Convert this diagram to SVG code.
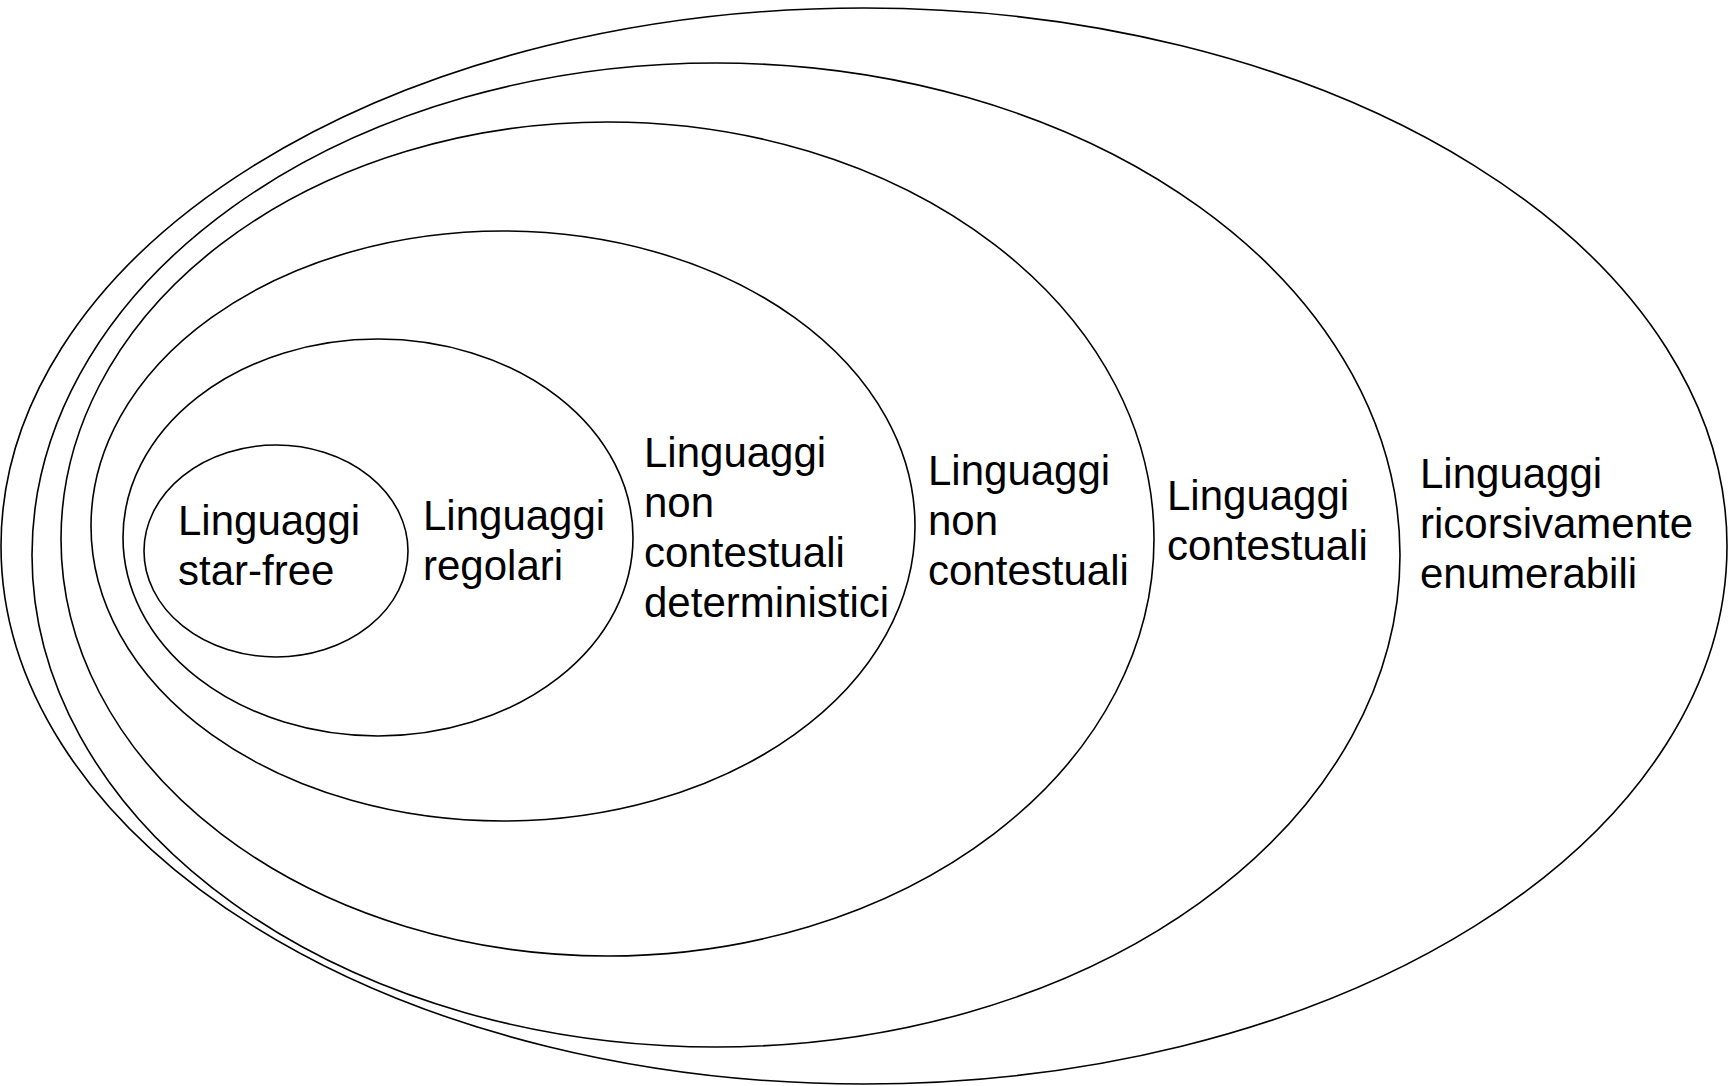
<svg xmlns="http://www.w3.org/2000/svg" width="1728" height="1086" viewBox="0 0 1728 1086">
<style>
.e{fill:none;stroke:#000;stroke-width:1.6}
.t{font-family:"Liberation Sans",Arial,sans-serif;font-size:42px;fill:#000}
</style>
<rect width="1728" height="1086" fill="#fff"/>
<g id="re"><ellipse class="e" cx="864" cy="546" rx="863" ry="538"/>
<text class="t" x="1420" y="488">Linguaggi</text><text class="t" x="1420" y="538">ricorsivamente</text><text class="t" x="1420" y="588">enumerabili</text></g>
<g id="cs"><ellipse class="e" cx="716" cy="555" rx="684" ry="492"/>
<text class="t" x="1167" y="510">Linguaggi</text><text class="t" x="1167" y="560">contestuali</text></g>
<g id="cf"><ellipse class="e" cx="607.5" cy="539" rx="546.5" ry="417"/>
<text class="t" x="928" y="485">Linguaggi</text><text class="t" x="928" y="535">non</text><text class="t" x="928" y="585">contestuali</text></g>
<g id="dcf"><ellipse class="e" cx="503" cy="526" rx="412" ry="295"/>
<text class="t" x="644" y="467">Linguaggi</text><text class="t" x="644" y="517">non</text><text class="t" x="644" y="567">contestuali</text><text class="t" x="644" y="617">deterministici</text></g>
<g id="reg"><ellipse class="e" cx="378" cy="537.5" rx="255" ry="198.5"/>
<text class="t" x="423" y="530">Linguaggi</text><text class="t" x="423" y="580">regolari</text></g>
<g id="sf"><ellipse class="e" cx="276" cy="551" rx="132" ry="106"/>
<text class="t" x="178" y="535">Linguaggi</text><text class="t" x="178" y="585">star-free</text></g>
<g id="connectors"/>
</svg>
